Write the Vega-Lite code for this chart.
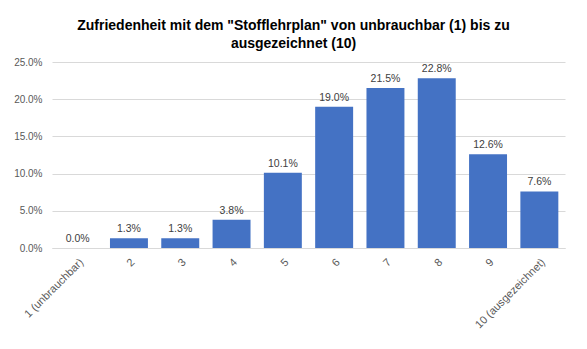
{
  "$schema": "https://vega.github.io/schema/vega-lite/v6.json",
  "width": 513,
  "height": 186,
  "autosize": {"type": "none"},
  "padding": {"left": 52, "top": 62, "right": 22, "bottom": 101},
  "background": "white",
  "title": {
    "text": ["Zufriedenheit mit dem \"Stofflehrplan\" von unbrauchbar (1) bis zu", "ausgezeichnet (10)"],
    "font": "Liberation Sans",
    "fontSize": 14,
    "fontWeight": "bold",
    "color": "#000000",
    "anchor": "middle",
    "dx": -15,
    "offset": 6,
    "lineHeight": 18
  },
  "data": {
    "values": [
      {"k": "1 (unbrauchbar)", "v": 0.0},
      {"k": "2", "v": 0.013},
      {"k": "3", "v": 0.013},
      {"k": "4", "v": 0.038},
      {"k": "5", "v": 0.101},
      {"k": "6", "v": 0.19},
      {"k": "7", "v": 0.215},
      {"k": "8", "v": 0.228},
      {"k": "9", "v": 0.126},
      {"k": "10 (ausgezeichnet)", "v": 0.076}
    ]
  },
  "encoding": {
    "x": {
      "field": "k", "type": "nominal", "sort": null,
      "scale": {"paddingInner": 0.26, "paddingOuter": 0.13},
      "axis": {
        "title": null, "labelAngle": -45, "labelFont": "Liberation Sans", "labelFontSize": 11,
        "labelColor": "#595959", "ticks": false, "domainColor": "#d9d9d9", "labelPadding": 8
      }
    },
    "y": {
      "field": "v", "type": "quantitative",
      "scale": {"domain": [0, 0.25]},
      "axis": {
        "title": null, "format": ".1%", "values": [0, 0.05, 0.1, 0.15, 0.2, 0.25],
        "labelFont": "Liberation Sans", "labelFontSize": 10, "labelColor": "#595959",
        "domain": false, "ticks": false, "gridColor": "#d9d9d9", "labelPadding": 10
      }
    }
  },
  "layer": [
    {"mark": {"type": "bar", "color": "#4472C4"}},
    {
      "mark": {"type": "text", "dy": -9, "font": "Liberation Sans", "fontSize": 10.5, "color": "#404040"},
      "encoding": {"text": {"field": "v", "type": "quantitative", "format": ".1%"}}
    }
  ],
  "config": {"view": {"stroke": null}}
}
